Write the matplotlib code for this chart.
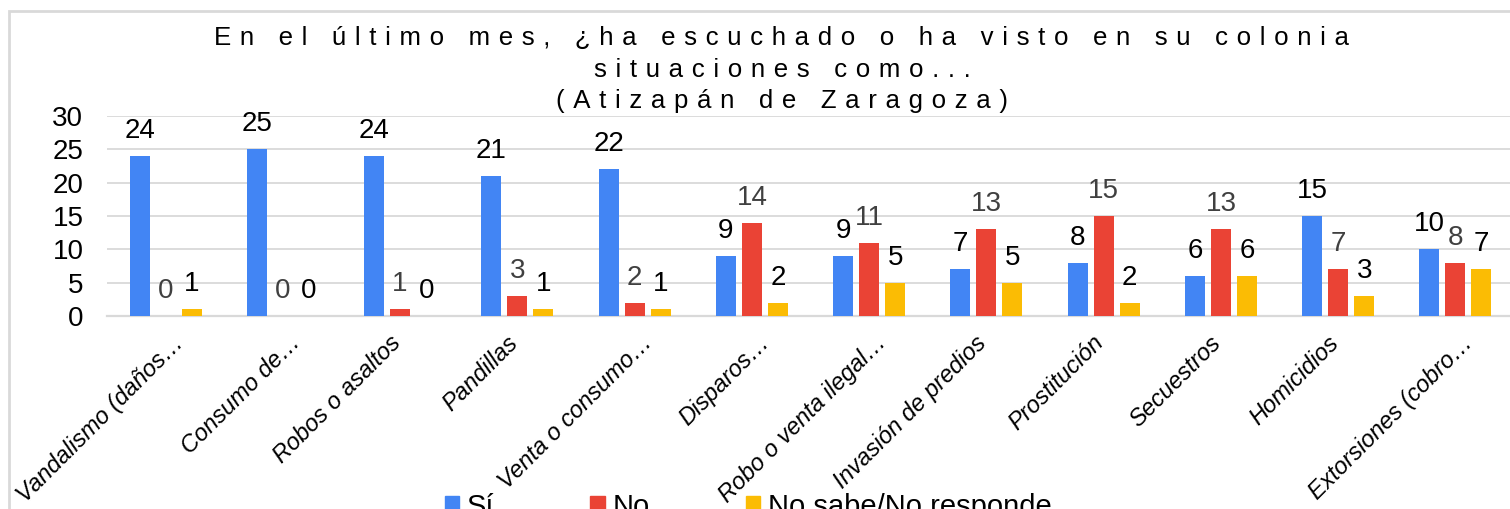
import numpy as np
import matplotlib.pyplot as plt
import matplotlib.transforms as mtransforms
from matplotlib.patches import Patch, Rectangle

plt.rcParams['font.family'] = ['Liberation Sans', 'DejaVu Sans']

categories = ['Vandalismo (daños…', 'Consumo de…', 'Robos o asaltos', 'Pandillas',
              'Venta o consumo…', 'Disparos…', 'Robo o venta ilegal…',
              'Invasión de predios', 'Prostitución', 'Secuestros', 'Homicidios',
              'Extorsiones (cobro…']
si = [24, 25, 24, 21, 22, 9, 9, 7, 8, 6, 15, 10]
no = [0, 0, 1, 3, 2, 14, 11, 13, 15, 13, 7, 8]
ns_nr = [1, 0, 0, 1, 1, 2, 5, 5, 2, 6, 3, 7]
series_names = ['Sí', 'No', 'No sabe/No responde']
title_lines = ['En el último mes, ¿ha escuchado o ha visto en su colonia',
               'situaciones como...',
               '(Atizapán de Zaragoza)']

colors = ['#4285F4', '#EA4335', '#FBBC04']
label_colors = ['black', '#404040', 'black']

W, H = 1510, 509
fig = plt.figure(figsize=(W / 100, H / 100), dpi=100)
ax = fig.add_axes([107 / W, 1 - 316 / H, 1407 / W, 200 / H])

x = np.arange(len(categories))
step = 0.222
width = 0.17
for i, vals in enumerate([si, no, ns_nr]):
    pos = x + (i - 1) * step
    ax.bar(pos, vals, width, color=colors[i], zorder=3)
    for p, v in zip(pos, vals):
        ax.annotate(str(v), (p, v), xytext=(0, 13), textcoords='offset points',
                    ha='center', va='baseline', fontsize=20, color=label_colors[i])

ax.set_xlim(-0.5, len(categories) - 0.5)
ax.set_ylim(0, 30)
ax.set_yticks(range(0, 31, 5))
ax.yaxis.grid(True, color='#d9d9d9', lw=1.3, zorder=0)
for s in ['top', 'right', 'left']:
    ax.spines[s].set_visible(False)
ax.spines['bottom'].set_color('#d9d9d9')
ax.spines['bottom'].set_linewidth(1.6)
ax.tick_params(axis='y', length=0, pad=17, labelsize=20)
ax.tick_params(axis='x', length=0, pad=11)
ax.set_xticks(x)
ax.set_xticklabels(categories, rotation=45, ha='right', fontsize=17, style='italic')
# truncated labels hang a bit further right, like the original
for lab in ax.get_xticklabels():
    dx = 22 if lab.get_text().endswith('…') else 5
    lab.set_transform(lab.get_transform() +
                      mtransforms.ScaledTranslation(dx / 100, 0, fig.dpi_scale_trans))

# letter-spaced title, as in the original
title_y = [45, 77, 108]
for line, yb in zip(title_lines, title_y):
    spaced = '\u2004'.join(line)
    fig.text(782 / W, 1 - yb / H, spaced, ha='center', va='baseline', fontsize=18.6)

handles = [Patch(color=c) for c in colors]
fig.legend(handles, series_names, loc='center', bbox_to_anchor=(748 / W, 1 - 507 / H),
           ncol=3, frameon=False, fontsize=21, handlelength=0.5, handleheight=0.5,
           handletextpad=0.25, columnspacing=3.3)

fig.patches.append(Rectangle((8.5 / W, -0.1), 1.2, 1.1 - 10.5 / H, transform=fig.transFigure,
                             fill=False, edgecolor='#d9d9d9', lw=2))

fig.savefig('out.png', dpi=100)
